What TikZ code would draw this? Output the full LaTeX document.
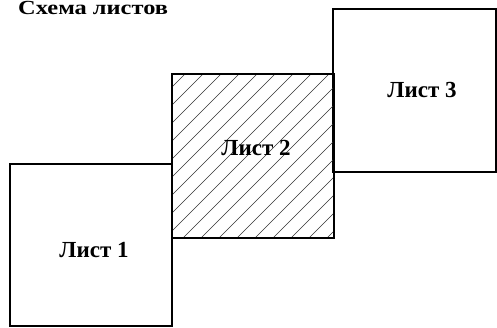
\documentclass[tikz,border=0pt]{standalone}
\usepackage{fontspec}
\setmainfont{Liberation Serif}
\begin{document}
\begin{tikzpicture}[x=1pt,y=-1pt,
  sheet/.style={draw=black,line width=1.3pt,rectangle,inner sep=0pt},
  lbl/.style={font=\bfseries\fontsize{23}{26}\selectfont,inner sep=0pt},
  hatch/.style={draw=black!80,line width=0.6pt}]
\useasboundingbox (0,0) rectangle (497,328);
\node[anchor=base west,inner sep=0pt,font=\bfseries\fontsize{20}{24}\selectfont] (title) at (18,15) {\scalebox{1.22}[1]{Схема листов}};
\node[sheet,minimum width=162pt,minimum height=162pt] (s1) at (91,245) {};
\node[sheet,minimum width=163pt,minimum height=163pt] (s3) at (414.5,90.5) {};
\begin{scope}
  \clip (172,74) rectangle (334,238);
  \foreach \c in {187,205,...,600} {
    \draw[hatch] (\c-250,250) -- (\c,0);
  }
\end{scope}
\node[sheet,minimum width=162pt,minimum height=164pt] (s2) at (253,156) {};
\node[lbl] (l1) at (94,250) {Лист 1};
\node[lbl] (l2) at (256,148) {Лист 2};
\node[lbl] (l3) at (422,90) {Лист 3};
\end{tikzpicture}
\end{document}
